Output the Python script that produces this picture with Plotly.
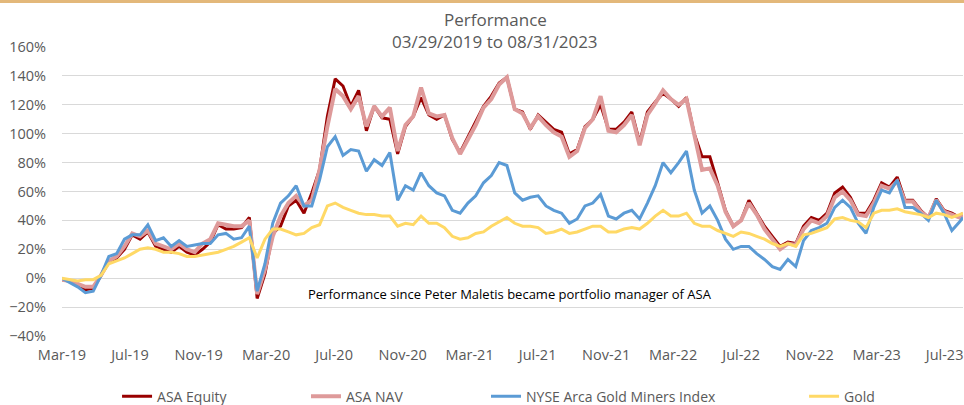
import pandas as pd
import plotly.graph_objects as go

# ---- data (percent performance since 03/29/2019), sampled every two weeks ----
dates = list(pd.date_range("2019-03-29", periods=116, freq="14D")) + [pd.Timestamp("2023-08-31")]

asa_equity = [-1, -2, -5, -8, -7, 2, 11, 14, 20, 30, 27, 32, 22, 20, 18, 22, 18, 16, 20, 25,
              37, 34, 34, 35, 42, -14, 3, 31, 36, 50, 54, 45, 59, 75, 112, 138, 133, 119, 130, 102,
              119, 111, 110, 86, 105, 112, 125, 113, 110, 113, 96, 87, 98, 108, 119, 126, 135, 139, 117, 115,
              103, 113, 108, 103, 101, 86, 89, 105, 110, 120, 103, 103, 108, 115, 94, 115, 122, 128, 124, 119,
              125, 100, 84, 84, 66, 47, 36, 40, 54, 45, 36, 29, 22, 25, 24, 36, 42, 40, 45, 59,
              63, 56, 45, 45, 54, 66, 63, 70, 54, 54, 47, 42, 55, 47, 45, 42, 45]

asa_nav = [-1, -2, -4, -6, -6, 2, 12, 15, 22, 31, 29, 33, 24, 22, 20, 24, 20, 18, 24, 27,
           38, 37, 36, 36, 40, -11, 6, 29, 43, 52, 57, 50, 54, 75, 105, 131, 126, 117, 126, 105,
           119, 112, 118, 88, 106, 112, 132, 114, 112, 113, 97, 86, 96, 106, 118, 124, 134, 139, 117, 114,
           104, 112, 106, 101, 98, 84, 88, 104, 110, 126, 102, 101, 106, 113, 92, 113, 121, 130, 124, 120,
           124, 98, 75, 76, 64, 46, 36, 40, 52, 44, 34, 27, 20, 24, 23, 34, 40, 38, 43, 56,
           60, 54, 44, 43, 52, 64, 62, 67, 53, 53, 46, 42, 54, 46, 44, 42, 44]

gold_miners = [0, -3, -6, -10, -9, 2, 15, 17, 27, 30, 30, 37, 26, 28, 22, 26, 22, 23, 24, 24,
               30, 31, 27, 28, 36, -9, 10, 38, 52, 57, 64, 50, 50, 68, 91, 98, 85, 89, 88, 74,
               82, 78, 87, 54, 64, 61, 73, 64, 59, 57, 47, 45, 52, 57, 66, 71, 80, 78, 59, 54,
               56, 57, 50, 47, 45, 38, 41, 50, 52, 58, 43, 41, 45, 47, 41, 52, 64, 80, 73, 80,
               88, 61, 45, 50, 40, 27, 20, 22, 22, 17, 13, 8, 6, 13, 8, 26, 33, 35, 38, 49,
               54, 49, 38, 31, 49, 61, 59, 68, 49, 49, 45, 40, 54, 45, 33, 39, 42]

gold = [0, -1, -2, -1, -1, 2, 10, 12, 14, 17, 20, 21, 20, 18, 18, 17, 15, 15, 16, 17,
        18, 20, 22, 25, 28, 14, 27, 34, 34, 32, 30, 31, 35, 37, 50, 52, 49, 47, 45, 44,
        44, 43, 43, 36, 38, 37, 43, 38, 38, 35, 29, 27, 28, 31, 32, 36, 39, 42, 38, 36,
        36, 35, 31, 32, 34, 31, 32, 34, 36, 36, 32, 32, 34, 35, 34, 38, 43, 47, 43, 43,
        45, 38, 36, 36, 33, 31, 29, 32, 31, 29, 27, 24, 22, 24, 22, 30, 31, 33, 35, 41,
        42, 40, 39, 35, 45, 47, 47, 48, 46, 45, 44, 42, 45, 44, 42, 44, 45]

series_names = ["ASA Equity", "ASA NAV", "NYSE Arca Gold Miners Index", "Gold"]
tick_dates = pd.to_datetime(["2019-03-29", "2019-07-29", "2019-11-29", "2020-03-29", "2020-07-29",
                             "2020-11-29", "2021-03-29", "2021-07-29", "2021-11-29", "2022-03-29",
                             "2022-07-29", "2022-11-29", "2023-03-29", "2023-07-29"])
tick_labels = ["Mar-19", "Jul-19", "Nov-19", "Mar-20", "Jul-20", "Nov-20", "Mar-21",
               "Jul-21", "Nov-21", "Mar-22", "Jul-22", "Nov-22", "Mar-23", "Jul-23"]

FONT = "Open Sans"
GREY = "#595959"
GRID = "#D9D9D9"

styles = [
    dict(color="#990000", width=3),
    dict(color="#DE9A9A", width=4),
    dict(color="#5B9BD5", width=3),
    dict(color="#FFD966", width=3),
]
legend_ids = ["legend", "legend2", "legend3", "legend4"]
values = [asa_equity, asa_nav, gold_miners, gold]

fig = go.Figure()
for name, vals, st, lg in zip(series_names, values, styles, legend_ids):
    fig.add_trace(go.Scatter(x=dates, y=vals, mode="lines", name=name, line=st,
                             legend=lg, hoverinfo="skip"))

xr = [pd.Timestamp("2019-03-29"), pd.Timestamp("2023-08-31")]

leg_common = dict(orientation="h", y=-0.2102, yanchor="middle", xanchor="left",
                  font=dict(family=FONT, size=14, color=GREY), bgcolor="rgba(0,0,0,0)",
                  itemwidth=30)

fig.update_layout(
    width=964, height=405,
    margin=dict(l=62, r=1, t=47, b=69, autoexpand=False),
    paper_bgcolor="white", plot_bgcolor="white",
    font=dict(family=FONT, color=GREY),
    showlegend=True,
    legend=dict(x=0.0611, **leg_common),
    legend2=dict(x=0.2708, **leg_common),
    legend3=dict(x=0.4706, **leg_common),
    legend4=dict(x=0.8236, **leg_common),
    xaxis=dict(range=xr, type="date", tickvals=tick_dates, ticktext=tick_labels,
               showgrid=False, zeroline=False, showline=False, ticks="",
               tickfont=dict(family=FONT, size=14.5, color=GREY), ticklabelstandoff=8),
    xaxis2=dict(range=xr, type="date", overlaying="x", matches="x", anchor="free", position=0.2,
                side="bottom", tickvals=tick_dates, showticklabels=False, showgrid=False,
                zeroline=False, showline=True, linecolor=GRID, linewidth=1,
                ticks="outside", ticklen=5, tickcolor=GRID, tickwidth=1),
    yaxis=dict(range=[-40, 160], dtick=20, ticksuffix="%", showgrid=True, gridcolor=GRID,
               gridwidth=1, zeroline=False, showline=False,
               tickfont=dict(family=FONT, size=14.5, color=GREY), ticklabelstandoff=15),
    annotations=[
        dict(text="Performance", xref="paper", yref="paper", x=0.4806, y=(336 - 20) / 289,
             showarrow=False, xanchor="center", yanchor="middle",
             font=dict(family=FONT, size=17, color=GREY)),
        dict(text="03/29/2019 to 08/31/2023", xref="paper", yref="paper", x=0.4806,
             y=(336 - 42) / 289, showarrow=False, xanchor="center", yanchor="middle",
             font=dict(family=FONT, size=17, color=GREY)),
        dict(text="Performance since Peter Maletis became portfolio manager of ASA",
             xref="paper", yref="paper", x=0.497, y=(336 - 294) / 289,
             showarrow=False, xanchor="center", yanchor="middle",
             font=dict(family=FONT, size=13, color="black")),
    ],
    shapes=[
        dict(type="line", xref="paper", yref="paper", x0=-62 / 901, x1=1 + 1 / 901,
             y0=1 + 45.5 / 289, y1=1 + 45.5 / 289, line=dict(color="#E3B87A", width=3)),
    ],
)

fig.write_html("out.html", config={"displayModeBar": False},
               post_script="document.body.style.margin='0';")
